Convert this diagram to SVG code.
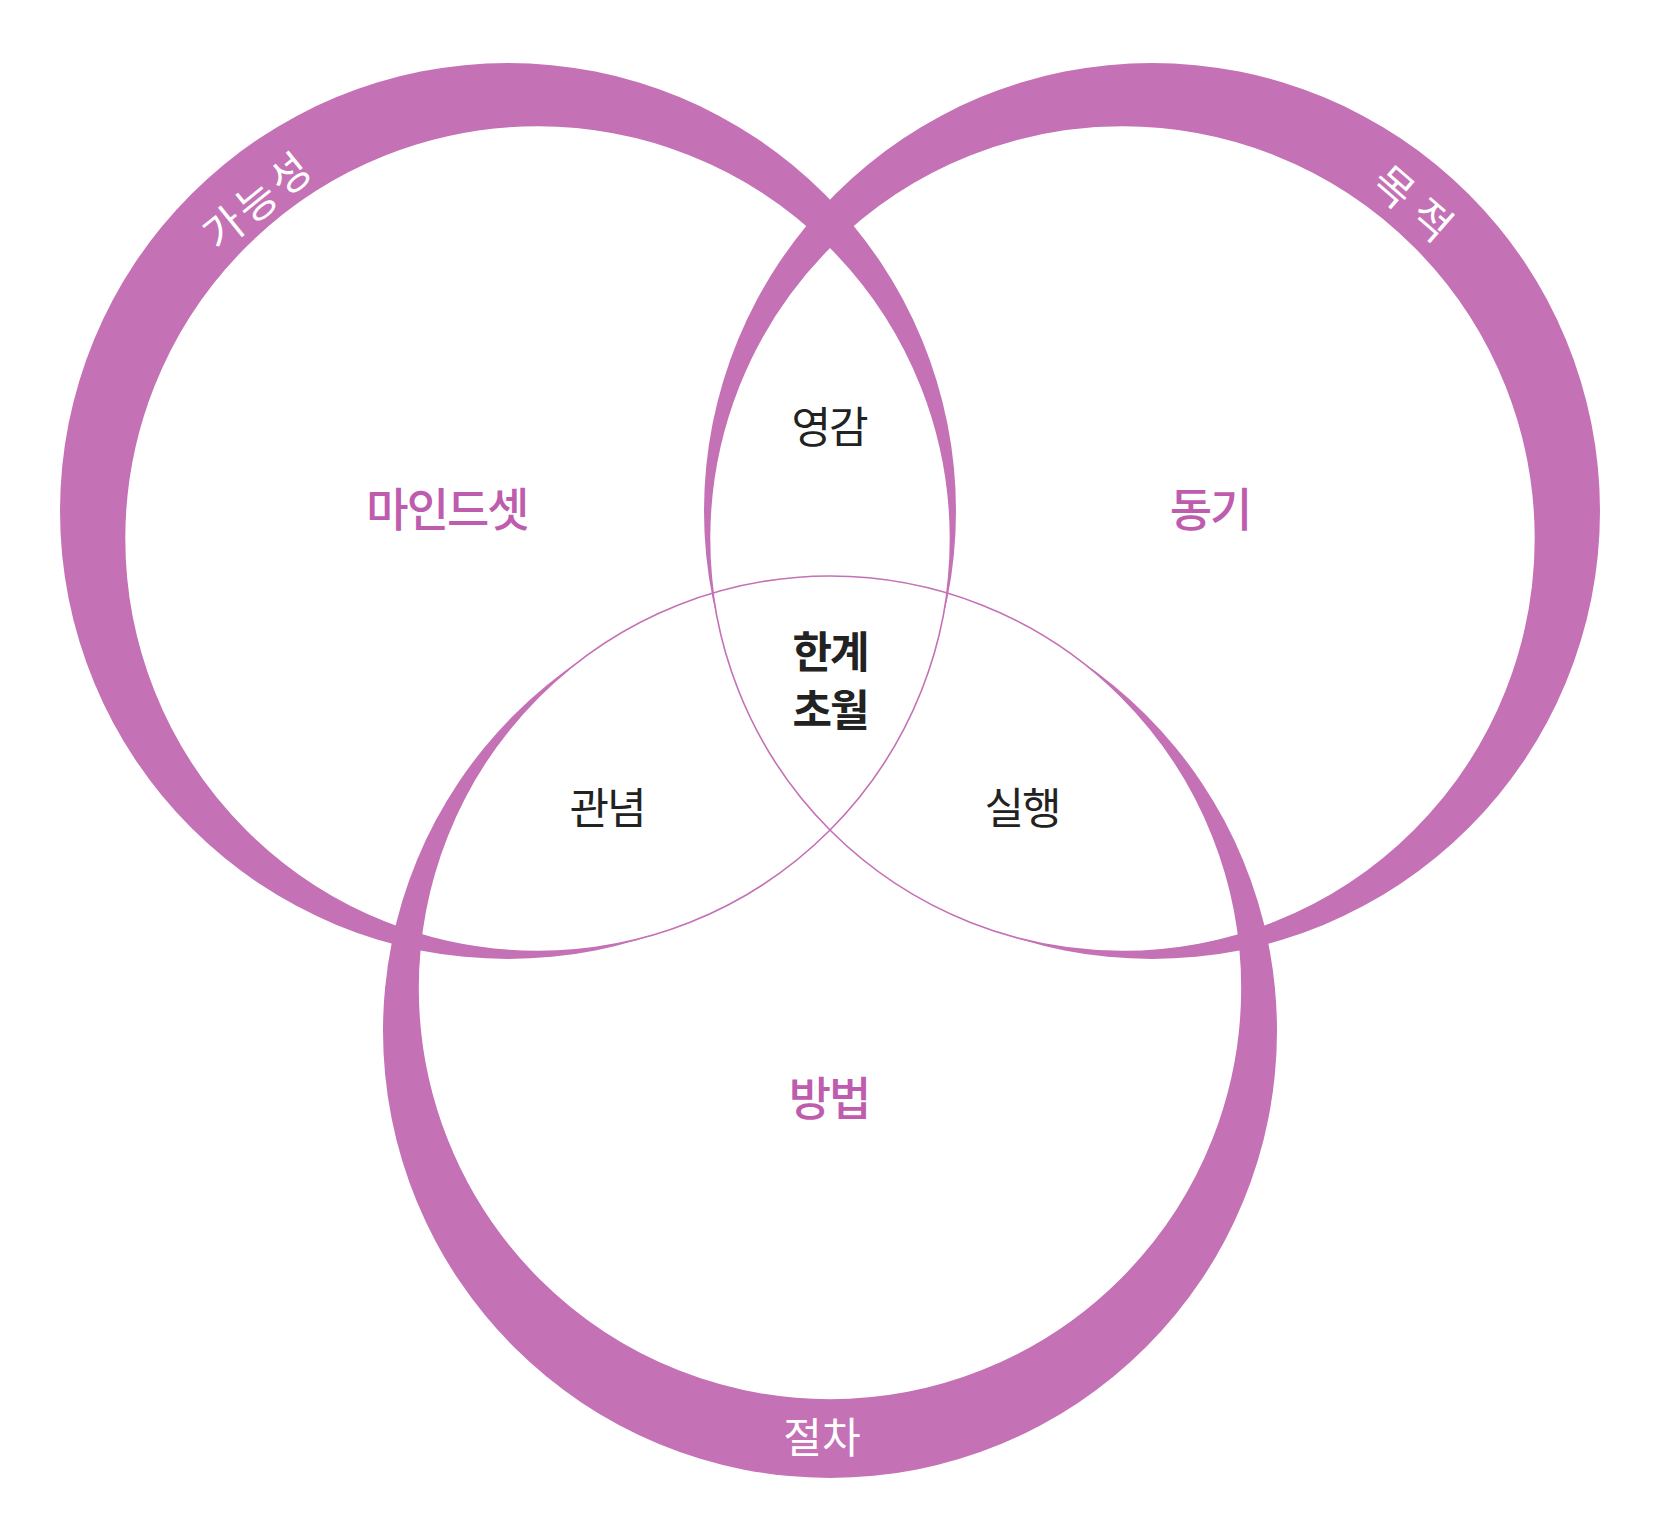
<svg xmlns="http://www.w3.org/2000/svg" width="1664" height="1538" viewBox="0 0 1664 1538">
<style>
.ring{fill:#C471B5}
.edge{fill:none;stroke:#C471B5;stroke-width:1.6}
.t{font-family:"Noto Sans CJK KR","Noto Sans",sans-serif;text-anchor:middle}
.main{font-size:46px;font-weight:500;fill:#BE5DAE;letter-spacing:-2px}
.sub{font-size:43px;font-weight:400;fill:#222;letter-spacing:-2px}
.core{font-size:43px;font-weight:700;fill:#222;letter-spacing:-2px}
.rim{font-size:42px;font-weight:400;fill:#fff}
</style>
<defs>
<mask id="mL" maskUnits="userSpaceOnUse" x="0" y="0" width="1664" height="1538"><rect width="1664" height="1538" fill="#fff"/><circle cx="537.5" cy="538.5" r="413" fill="#000"/></mask>
<mask id="mR" maskUnits="userSpaceOnUse" x="0" y="0" width="1664" height="1538"><rect width="1664" height="1538" fill="#fff"/><circle cx="1122.5" cy="538.5" r="413" fill="#000"/></mask>
<mask id="mB" maskUnits="userSpaceOnUse" x="0" y="0" width="1664" height="1538"><rect width="1664" height="1538" fill="#fff"/><circle cx="830" cy="988" r="412" fill="#000"/></mask>
</defs>
<rect width="1664" height="1538" fill="#fff"/>
<g id="connectors"></g>
<g id="circle-left">
<circle class="ring" cx="508" cy="511" r="448" mask="url(#mL)"/>
<circle class="edge" cx="537.5" cy="538.5" r="413"/>
<text class="t rim" transform="translate(268,212) rotate(-39)" letter-spacing="4">가능성</text>
</g>
<g id="circle-right">
<circle class="ring" cx="1152" cy="511" r="448" mask="url(#mR)"/>
<circle class="edge" cx="1122.5" cy="538.5" r="413"/>
<text class="t rim" transform="translate(1407,219) rotate(41)" letter-spacing="12">목적</text>
</g>
<g id="circle-bottom">
<circle class="ring" cx="830" cy="1031" r="447" mask="url(#mB)"/>
<circle class="edge" cx="830" cy="988" r="412"/>
<text class="t rim" x="822" y="1453">절차</text>
</g>
<g id="labels">
<text class="t main" x="447" y="526">마인드셋</text>
<text class="t main" x="1210" y="526">동기</text>
<text class="t main" x="829" y="1115">방법</text>
<text class="t sub" x="829" y="443">영감</text>
<text class="t sub" x="607" y="824">관념</text>
<text class="t sub" x="1022" y="824">실행</text>
<text class="t core" x="830" y="668">한계</text>
<text class="t core" x="830" y="726">초월</text>
</g>
</svg>
